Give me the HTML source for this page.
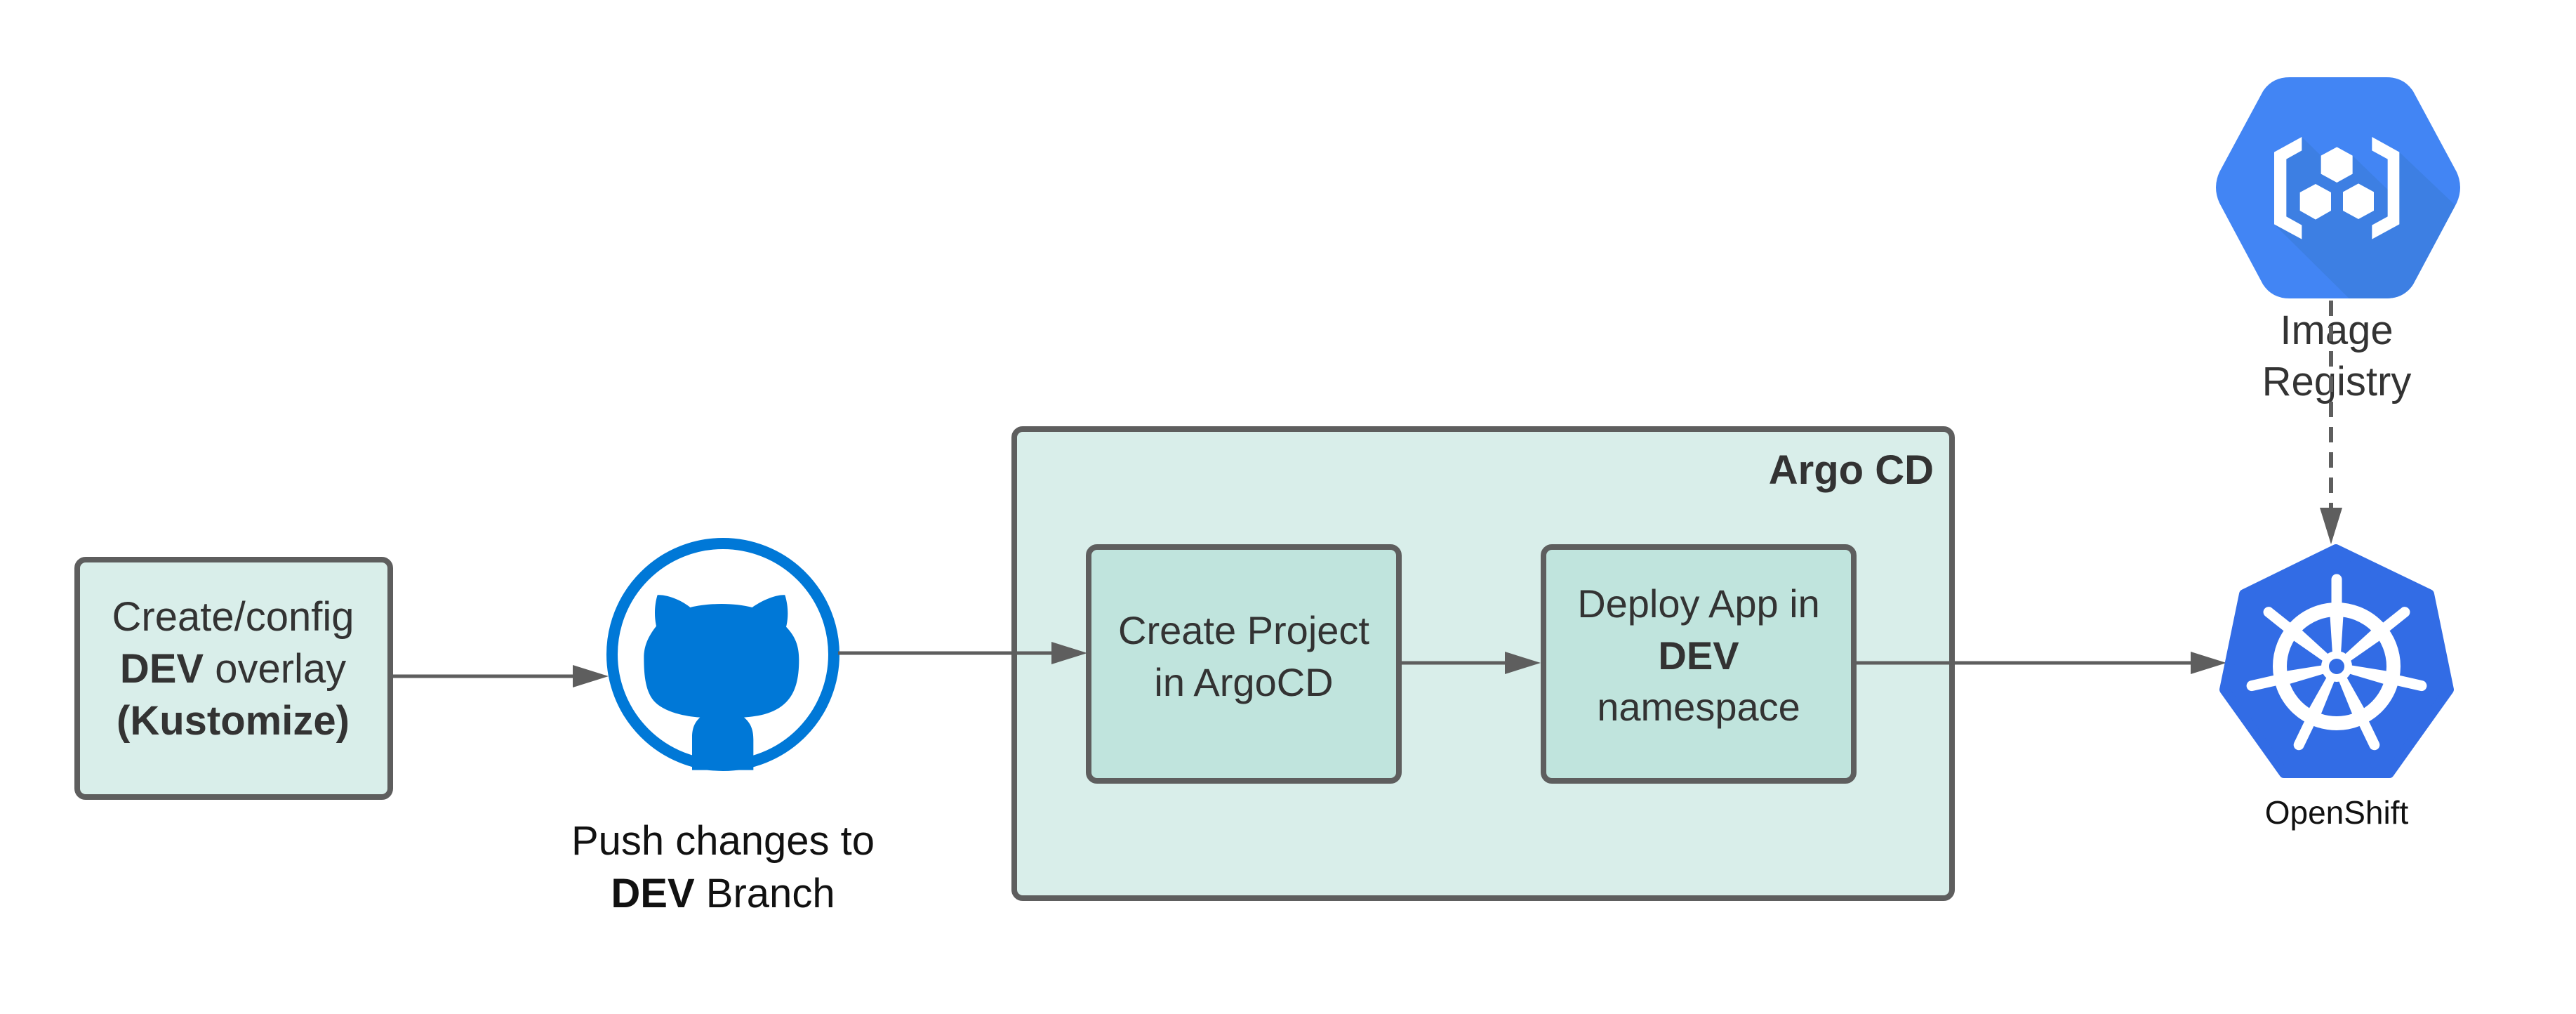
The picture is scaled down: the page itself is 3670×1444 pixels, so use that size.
<!DOCTYPE html>
<html><head><meta charset="utf-8"><style>
html,body{margin:0;padding:0;background:#fff;}
svg{display:block;}
text{font-family:"Liberation Sans",sans-serif;}
</style></head><body>
<svg width="3670" height="1444" viewBox="0 0 3670 1444" xmlns="http://www.w3.org/2000/svg">
<defs>
<clipPath id="hexclip"><path d="M3262,110 L3400,110 Q3425,110 3438,130 L3500,245 Q3510,267 3500,289 L3438,405 Q3425,425 3400,425 L3262,425 Q3237,425 3224,405 L3162,289 Q3152,267 3162,245 L3224,130 Q3237,110 3262,110Z"/></clipPath>
</defs>

<rect x="110" y="797" width="446" height="338" rx="12" fill="#d9eeea" stroke="#5e5e5e" stroke-width="8"/>
<text x="332" y="898" font-size="58" fill="#333" text-anchor="middle">Create/config</text>
<text x="332" y="972" font-size="58" fill="#333" text-anchor="middle"><tspan font-weight="bold">DEV</tspan> overlay</text>
<text x="332" y="1046" font-size="58" fill="#333" text-anchor="middle" font-weight="bold">(Kustomize)</text>

<line x1="556" y1="963" x2="830" y2="963" stroke="#5e5e5e" stroke-width="5"/>
<polygon points="816,947 867,963 816,979" fill="#5e5e5e"/>

<circle cx="1030" cy="932" r="158" fill="#fff" stroke="#0078d7" stroke-width="16"/>
<g transform="translate(900,820) scale(0.33333)">
<path fill="#0078d7" d="M110,82 C160,80 220,110 250,135 C330,115 440,115 515,135 C550,110 610,80 655,82 C670,130 670,180 660,218 C700,260 715,300 715,360 C715,440 700,500 660,540 C610,590 540,600 480,605 C510,630 520,660 520,700 L520,830 L258,830 L258,690 C258,650 270,625 292,605 C220,600 140,580 100,540 C60,500 52,430 52,350 C52,300 70,260 105,215 C95,170 98,120 110,82 Z"/>
</g>
<text x="1030" y="1217" font-size="58" fill="#111" text-anchor="middle">Push changes to</text>
<text x="1030" y="1292" font-size="58" fill="#111" text-anchor="middle"><tspan font-weight="bold">DEV</tspan> Branch</text>

<rect x="1445" y="611" width="1336" height="668" rx="12" fill="#d9eeea" stroke="#5e5e5e" stroke-width="8"/>
<text x="2755" y="689" font-size="58" fill="#333" text-anchor="end" font-weight="bold">Argo CD</text>

<line x1="1194" y1="930" x2="1510" y2="930" stroke="#5e5e5e" stroke-width="5"/>
<polygon points="1498,914 1549,930 1498,946" fill="#5e5e5e"/>

<rect x="1551" y="779" width="442" height="333" rx="12" fill="#c0e4dd" stroke="#5e5e5e" stroke-width="8"/>
<text x="1772" y="917" font-size="56" fill="#333" text-anchor="middle">Create Project</text>
<text x="1772" y="991" font-size="56" fill="#333" text-anchor="middle">in ArgoCD</text>

<line x1="1993" y1="944" x2="2160" y2="944" stroke="#5e5e5e" stroke-width="5"/>
<polygon points="2144,928 2195,944 2144,960" fill="#5e5e5e"/>

<rect x="2199" y="779" width="442" height="333" rx="12" fill="#c0e4dd" stroke="#5e5e5e" stroke-width="8"/>
<text x="2420" y="879" font-size="56" fill="#333" text-anchor="middle">Deploy App in</text>
<text x="2420" y="953" font-size="56" fill="#333" text-anchor="middle" font-weight="bold">DEV</text>
<text x="2420" y="1026" font-size="56" fill="#333" text-anchor="middle">namespace</text>

<line x1="2641" y1="944" x2="3130" y2="944" stroke="#5e5e5e" stroke-width="5"/>
<polygon points="3121,928 3172,944 3121,960" fill="#5e5e5e"/>

<path fill="#4285f4" d="M3262,110 L3400,110 Q3425,110 3438,130 L3500,245 Q3510,267 3500,289 L3438,405 Q3425,425 3400,425 L3262,425 Q3237,425 3224,405 L3162,289 Q3152,267 3162,245 L3224,130 Q3237,110 3262,110Z"/>
<g clip-path="url(#hexclip)">
<g transform="translate(3140,100) scale(0.33333)">
<polygon fill="#3d7fe3" points="300,350 418,285 500,365 635,365 785,510 785,380 835,350 1075,578 1075,600 860,975 620,975 300,658"/>
</g></g>
<g transform="translate(3140,100) scale(0.33333)" fill="#fff">
<polygon points="300,350 418,285 418,343 352,380 352,625 418,662 418,722 300,658"/>
<polygon points="835,350 718,285 718,343 785,380 785,625 718,662 718,722 835,658"/>
<polygon points="500,365 568,328 635,365 635,443 568,480 500,443"/>
<polygon points="410,522 477,486 543,522 543,600 477,638 410,600"/>
<polygon points="594,520 660,484 726,520 726,600 660,636 594,600"/>
</g>
<text x="3329" y="490" font-size="58" fill="#333" text-anchor="middle">Image</text>
<text x="3329" y="563" font-size="58" fill="#333" text-anchor="middle">Registry</text>

<line x1="3321" y1="428" x2="3321" y2="728" stroke="#5e5e5e" stroke-width="6" stroke-dasharray="22,14"/>
<polygon points="3305,723 3337,723 3321,775" fill="#5e5e5e"/>

<path fill="#326ce5" stroke="#326ce5" stroke-width="14" stroke-linejoin="round" d="M3328,782 L3197,846 L3169,982 L3254,1101 L3404,1101 L3489,982 L3461,846Z"/>
<g transform="translate(3329,949)" stroke="#fff" fill="none">
<circle r="81" stroke-width="20"/>
<g stroke-linecap="round">
<g id="sp"><polygon points="-6,-18 6,-18 10,-80 -10,-80" fill="#fff" stroke="none"/><line x1="0" y1="-80" x2="0" y2="-124" stroke-width="15"/></g>
<use href="#sp" transform="rotate(51.43)"/>
<use href="#sp" transform="rotate(102.86)"/>
<use href="#sp" transform="rotate(154.29)"/>
<use href="#sp" transform="rotate(205.71)"/>
<use href="#sp" transform="rotate(257.14)"/>
<use href="#sp" transform="rotate(308.57)"/>
</g>
<circle r="22" fill="#fff" stroke="none"/>
<circle r="11" fill="#326ce5" stroke="none"/>
</g>
<text x="3329" y="1173" font-size="46" fill="#111" text-anchor="middle">OpenShift</text>
</svg>
</body></html>
